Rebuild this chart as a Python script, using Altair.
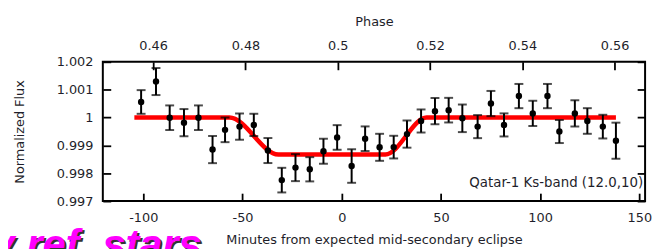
import altair as alt
import pandas as pd

# ---- data ----
minutes = [-101.1, -93.6, -86.7, -79.5, -72.2, -65.1, -58.8, -51.5, -44.3, -37.2,
           -30.2, -23.3, -16.1, -9.2, -2.3, 5.0, 11.8, 19.1, 26.2, 32.9,
           40.0, 47.0, 53.9, 60.8, 68.5, 75.2, 81.8, 89.3, 96.3, 103.7,
           109.7, 117.5, 123.8, 131.6, 138.2]
flux = [1.000559, 1.001292, 0.999993, 0.999816, 0.999993, 0.998850, 0.999558, 0.999674, 0.999735, 0.998815,
        0.997753, 0.998202, 0.998142, 0.998790, 0.999285, 0.998259, 0.999239, 0.998931, 0.998938, 0.999406,
        0.999876, 1.000230, 1.000265, 0.999972, 0.999674, 1.000502, 0.999735, 1.000771, 1.000149, 1.000771,
        0.999498, 1.000149, 0.999876, 0.999674, 0.999168]
flux_err = [0.000425, 0.000485, 0.000442, 0.000488, 0.000442, 0.000488, 0.000442, 0.000471, 0.000400, 0.000449,
            0.000442, 0.000485, 0.000435, 0.000449, 0.000442, 0.000602, 0.000442, 0.000485, 0.000407, 0.000488,
            0.000414, 0.000471, 0.000442, 0.000495, 0.000414, 0.000453, 0.000414, 0.000435, 0.000453, 0.000435,
            0.000414, 0.000471, 0.000460, 0.000425, 0.000648]

model_minutes = [-104.5, -56.6, -31.9, 22.0, 42.8, 138.2]
model_flux = [1.0, 1.0, 0.998673, 0.998673, 1.0, 1.0]

x_ticks = [-100, -50, 0, 50, 100, 150]
y_ticks = [0.997, 0.998, 0.999, 1.0, 1.001, 1.002]
phase_ticks = [0.46, 0.48, 0.5, 0.52, 0.54, 0.56]
x_domain = [-120.4, 152.9]
y_domain = [0.997, 1.002]
phase_domain = [0.4491, 0.5666]

label_text = "Qatar-1 Ks-band (12.0,10)"
banner_text = "y ref. stars"
x_title = "Minutes from expected mid-secondary eclipse"
y_title = "Normalized Flux"
phase_title = "Phase"

# ---- tables ----
pts = pd.DataFrame({
    "t": minutes,
    "f": flux,
    "lo": [f - e for f, e in zip(flux, flux_err)],
    "hi": [f + e for f, e in zip(flux, flux_err)],
})
model = pd.DataFrame({"t": model_minutes, "f": model_flux})
phase_df = pd.DataFrame({"phase": phase_domain})
right_df = pd.DataFrame({"f2": y_domain})

FONT = "DejaVu Sans"
TXT = "#1e1e2a"

xs = alt.Scale(domain=x_domain, nice=False, zero=False)
ys = alt.Scale(domain=y_domain, nice=False, zero=False)

x_axis = alt.Axis(values=x_ticks, title=x_title, orient="bottom", offset=-8, tickSize=8,
                  domain=False, grid=False, labelPadding=11, titlePadding=9,
                  labelExpr="toString(datum.value)")
y_axis = alt.Axis(values=y_ticks, title=y_title, orient="left", offset=-8, tickSize=8,
                  domain=False, grid=False, labelPadding=10, titlePadding=30,
                  labelExpr="toString(datum.value)")

base = alt.Chart(pts)

bars = base.mark_rule(color="black", strokeWidth=2).encode(
    x=alt.X("t:Q", scale=xs, axis=x_axis),
    y=alt.Y("lo:Q", scale=ys, axis=y_axis),
    y2="hi:Q",
)
cap_lo = base.mark_tick(orient="horizontal", color="black", size=9, thickness=2).encode(
    x=alt.X("t:Q", scale=xs, axis=x_axis),
    y=alt.Y("lo:Q", scale=ys, axis=y_axis),
)
cap_hi = base.mark_tick(orient="horizontal", color="black", size=9, thickness=2).encode(
    x=alt.X("t:Q", scale=xs, axis=x_axis),
    y=alt.Y("hi:Q", scale=ys, axis=y_axis),
)
dots = base.mark_circle(color="black", opacity=1, size=42).encode(
    x=alt.X("t:Q", scale=xs, axis=x_axis),
    y=alt.Y("f:Q", scale=ys, axis=y_axis),
)
line = alt.Chart(model).mark_line(color="#ff0000", strokeWidth=4.5, interpolate="monotone").encode(
    x=alt.X("t:Q", scale=xs, axis=x_axis),
    y=alt.Y("f:Q", scale=ys, axis=y_axis),
)
qlabel = alt.Chart(pd.DataFrame({"s": [label_text]})).mark_text(
    align="right", baseline="alphabetic", font=FONT, fontSize=13.5, color=TXT
).encode(text="s:N", x=alt.value(547), y=alt.value(126.5))

banner_shadow = alt.Chart(pd.DataFrame({"s": [banner_text]})).mark_text(
    align="right", baseline="alphabetic", font="Liberation Sans", fontSize=42,
    fontWeight="bold", fontStyle="italic", color="#333333", dx=2, dy=2
).encode(text="s:N", x=alt.value(100), y=alt.value(199))
banner = alt.Chart(pd.DataFrame({"s": [banner_text]})).mark_text(
    align="right", baseline="alphabetic", font="Liberation Sans", fontSize=42,
    fontWeight="bold", fontStyle="italic", color="#ff00ff"
).encode(text="s:N", x=alt.value(100), y=alt.value(199))

main = alt.layer(line, bars, cap_lo, cap_hi, dots, qlabel, banner_shadow, banner)

phase_layer = alt.Chart(phase_df).mark_point(opacity=0).encode(
    x=alt.X("phase:Q", scale=alt.Scale(domain=phase_domain, nice=False, zero=False),
            axis=alt.Axis(values=phase_ticks, title=phase_title, orient="top", offset=-8,
                          tickSize=8, domain=False, grid=False, labelPadding=9,
                          titlePadding=12, labelExpr="toString(datum.value)"))
)
right_layer = alt.Chart(right_df).mark_point(opacity=0).encode(
    y=alt.Y("f2:Q", scale=ys,
            axis=alt.Axis(values=y_ticks, title=None, labels=False, orient="right", offset=-8,
                          tickSize=8, domain=False, grid=False))
)

chart = alt.layer(main, phase_layer, right_layer).resolve_scale(
    x="independent", y="independent"
).properties(
    width=549, height=141,
    autosize=alt.AutoSizeParams(type="none"),
    padding={"left": 96, "top": 53, "right": 7, "bottom": 47},
).configure_view(
    stroke="black", strokeWidth=2
).configure_axis(
    labelFont=FONT, labelFontSize=13, labelColor=TXT,
    titleFont=FONT, titleFontSize=13, titleColor=TXT, titleFontWeight="normal",
    tickColor="black", tickWidth=1.8,
)

chart.save("out.html", embed_options={"renderer": "svg", "actions": False})
